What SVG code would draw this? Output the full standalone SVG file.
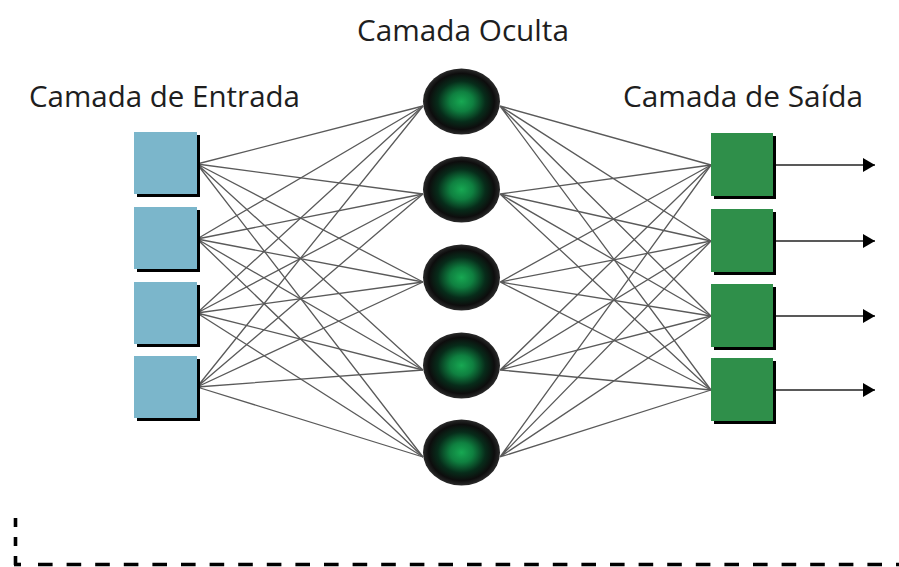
<svg xmlns="http://www.w3.org/2000/svg" width="899" height="567" viewBox="0 0 899 567">
  <style>
    .label { font-family: "Open Sans", "Noto Sans", "DejaVu Sans", sans-serif; font-size: 29px; fill: #1e1e1e; }
    .shadow { fill: #000; }
    .in { fill: #7bb6cb; }
    .out { fill: #2f8f4a; }
    .edge { stroke: #5a5a5a; stroke-width: 1.3; fill: none; }
    .arrow { stroke: #222; stroke-width: 1.5; fill: none; marker-end: url(#head); }
    .frame { stroke: #000; stroke-width: 3.6; fill: none; }
  </style>
  <defs>
    <radialGradient id="glow" cx="50%" cy="50%" r="50%">
      <stop offset="0%" stop-color="#17a852"/>
      <stop offset="30%" stop-color="#0f8040"/>
      <stop offset="62%" stop-color="#072c1a"/>
      <stop offset="85%" stop-color="#0d0d0d"/>
      <stop offset="100%" stop-color="#2a2a2a"/>
    </radialGradient>
    <marker id="head" markerWidth="12" markerHeight="14" refX="12" refY="7" orient="auto" markerUnits="userSpaceOnUse">
      <path d="M0,0 L12,7 L0,14 Z" fill="#000"/>
    </marker>
  </defs>

  <rect width="899" height="567" fill="#fff"/>

  <!-- layer titles -->
  <text class="label" x="357" y="41" textLength="212" lengthAdjust="spacingAndGlyphs">Camada Oculta</text>
  <text class="label" x="29" y="107" textLength="271" lengthAdjust="spacingAndGlyphs">Camada de Entrada</text>
  <text class="label" x="623" y="107" textLength="240" lengthAdjust="spacingAndGlyphs">Camada de Saída</text>

  <!-- connections -->
  <g id="connectors">
    <!-- input to hidden -->
    <path class="edge" d="M197,164 L423,106 M197,164 L423,194 M197,164 L423,282 M197,164 L423,370 M197,164 L423,457"/>
    <path class="edge" d="M197,239 L423,106 M197,239 L423,194 M197,239 L423,282 M197,239 L423,370 M197,239 L423,457"/>
    <path class="edge" d="M197,313 L423,106 M197,313 L423,194 M197,313 L423,282 M197,313 L423,370 M197,313 L423,457"/>
    <path class="edge" d="M197,387 L423,106 M197,387 L423,194 M197,387 L423,282 M197,387 L423,370 M197,387 L423,457"/>
    <!-- hidden to output -->
    <path class="edge" d="M500,106 L711,165 M500,106 L711,241 M500,106 L711,316 M500,106 L711,390"/>
    <path class="edge" d="M500,194 L711,165 M500,194 L711,241 M500,194 L711,316 M500,194 L711,390"/>
    <path class="edge" d="M500,282 L711,165 M500,282 L711,241 M500,282 L711,316 M500,282 L711,390"/>
    <path class="edge" d="M500,370 L711,165 M500,370 L711,241 M500,370 L711,316 M500,370 L711,390"/>
    <path class="edge" d="M500,457 L711,165 M500,457 L711,241 M500,457 L711,316 M500,457 L711,390"/>
    <!-- outputs -->
    <line class="arrow" x1="773" y1="165" x2="875" y2="165"/>
    <line class="arrow" x1="773" y1="241" x2="875" y2="241"/>
    <line class="arrow" x1="773" y1="316" x2="875" y2="316"/>
    <line class="arrow" x1="773" y1="390" x2="875" y2="390"/>
  </g>

  <!-- input layer -->
  <g id="in1"><rect class="shadow" x="137" y="135" width="63" height="62"/><rect class="in" x="134" y="132" width="63" height="62"/></g>
  <g id="in2"><rect class="shadow" x="137" y="210" width="63" height="62"/><rect class="in" x="134" y="207" width="63" height="62"/></g>
  <g id="in3"><rect class="shadow" x="137" y="285" width="63" height="62"/><rect class="in" x="134" y="282" width="63" height="62"/></g>
  <g id="in4"><rect class="shadow" x="137" y="359" width="63" height="62"/><rect class="in" x="134" y="356" width="63" height="62"/></g>

  <!-- hidden layer -->
  <g id="h1"><ellipse cx="461.5" cy="101.5" rx="38.5" ry="33" fill="url(#glow)"/></g>
  <g id="h2"><ellipse cx="461.5" cy="189.5" rx="38.5" ry="33" fill="url(#glow)"/></g>
  <g id="h3"><ellipse cx="461.5" cy="277.5" rx="38.5" ry="33" fill="url(#glow)"/></g>
  <g id="h4"><ellipse cx="461.5" cy="365.5" rx="38.5" ry="33" fill="url(#glow)"/></g>
  <g id="h5"><ellipse cx="461.5" cy="452.5" rx="38.5" ry="33" fill="url(#glow)"/></g>

  <!-- output layer -->
  <g id="out1"><rect class="shadow" x="714" y="136" width="62" height="63"/><rect class="out" x="711" y="133" width="62" height="63"/></g>
  <g id="out2"><rect class="shadow" x="714" y="212" width="62" height="63"/><rect class="out" x="711" y="209" width="62" height="63"/></g>
  <g id="out3"><rect class="shadow" x="714" y="287" width="62" height="63"/><rect class="out" x="711" y="284" width="62" height="63"/></g>
  <g id="out4"><rect class="shadow" x="714" y="361" width="62" height="63"/><rect class="out" x="711" y="358" width="62" height="63"/></g>

  <!-- dashed frame corner -->
  <g id="frame">
    <line class="frame" x1="15.5" y1="518" x2="15.5" y2="566" stroke-dasharray="9 10"/>
    <line class="frame" x1="14" y1="564.5" x2="21" y2="564.5"/>
    <line class="frame" x1="38" y1="564.5" x2="899" y2="564.5" stroke-dasharray="14.6 14"/>
  </g>
</svg>
